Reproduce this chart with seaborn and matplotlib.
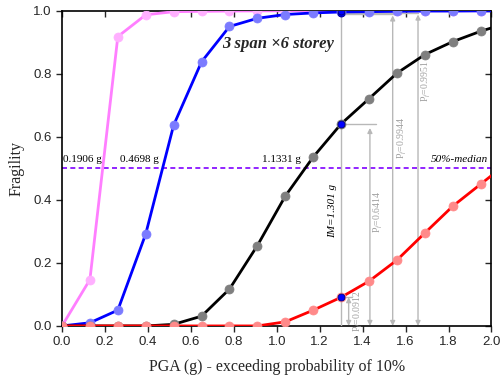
import numpy as np
import pandas as pd
import matplotlib
matplotlib.use("Agg")
import matplotlib.pyplot as plt
import seaborn as sns

# ---- data ----
pga = [0.0, 0.13, 0.26, 0.39, 0.52, 0.65, 0.78, 0.91, 1.04, 1.17, 1.30, 1.43, 1.56, 1.69, 1.82, 1.95, 2.08]
ds_slight = [0.0, 0.147, 0.918, 0.987, 0.997, 0.998, 0.999, 0.9995, 0.9998, 0.9999, 1.0, 1.0, 1.0, 1.0, 1.0, 1.0, 1.0]
ds_moderate = [0.0, 0.01, 0.05, 0.292, 0.637, 0.838, 0.950, 0.976, 0.988, 0.993, 0.996, 0.997, 0.998, 0.999, 0.999, 0.9995, 0.9998]
ds_extensive = [0.0, 0.0, 0.0, 0.0, 0.005, 0.031, 0.117, 0.255, 0.412, 0.536, 0.641, 0.721, 0.802, 0.861, 0.902, 0.935, 0.962]
ds_complete = [0.0, 0.0, 0.0, 0.0, 0.0, 0.0, 0.0, 0.0, 0.013, 0.05, 0.091, 0.142, 0.209, 0.295, 0.380, 0.450, 0.52]

medians = [0.1906, 0.4698, 1.1331]
median_labels = ["0.1906 g", "0.4698 g", "1.1331 g"]
im_value = 1.301
pf_values = [0.0912, 0.6414, 0.9944, 0.9951]
pf_labels = ["P$_f$=0.0912", "P$_f$=0.6414", "P$_f$=0.9944", "P$_f$=0.9951"]

x_ticks = [0.0, 0.2, 0.4, 0.6, 0.8, 1.0, 1.2, 1.4, 1.6, 1.8, 2.0]
y_ticks = [0.0, 0.2, 0.4, 0.6, 0.8, 1.0]

sns.set_style("ticks")
plt.rcParams['font.family'] = ['Liberation Sans', 'DejaVu Sans']
plt.rcParams['mathtext.fontset'] = 'custom'
plt.rcParams['mathtext.rm'] = 'Liberation Serif'
plt.rcParams['mathtext.it'] = 'Liberation Serif:italic'
serif = ['Liberation Serif', 'DejaVu Serif']

fig = plt.figure(figsize=(5.02, 3.83), dpi=100)
ax = fig.add_axes([0.1235, 0.149, 0.8555, 0.823])

series = [
    (ds_slight, "#ff7fff", "#ffb0ff"),
    (ds_moderate, "#0000ff", "#7b7bff"),
    (ds_extensive, "#000000", "#7f7f7f"),
    (ds_complete, "#ff0000", "#ff8a8a"),
]
for vals, lc, mc in series:
    df = pd.DataFrame({"PGA": pga, "P": vals})
    sns.lineplot(data=df, x="PGA", y="P", ax=ax, color=lc, lw=2.0,
                 marker="o", markersize=6.5, markerfacecolor=mc,
                 markeredgecolor=mc, markeredgewidth=0.5, clip_on=True,
                 zorder=4)

grey = "#b8b8b8"
# IM vertical line
ax.plot([im_value, im_value], [0, 1.0], color=grey, lw=1.0, zorder=3)
# horizontal short guides
ax.plot([im_value, 1.462], [pf_values[1]] * 2, color=grey, lw=1.0, zorder=3)
ax.plot([im_value, 1.352], [pf_values[0]] * 2, color=grey, lw=1.0, zorder=3)
ax.plot([im_value, 1.58], [0.989] * 2, color=grey, lw=1.0, zorder=3)
ax.plot([im_value, 1.658], [0.992] * 2, color=grey, lw=1.0, zorder=3)

arrow_x = [1.335, 1.434, 1.54, 1.658]
arrow_top = [pf_values[0], 0.628, 0.985, 0.988]
for xa, yt in zip(arrow_x, arrow_top):
    ax.annotate("", xy=(xa, 0.0), xytext=(xa, yt),
                arrowprops=dict(arrowstyle="<|-|>", color=grey, lw=1.0,
                                shrinkA=0, shrinkB=0, mutation_scale=7),
                zorder=3)

# blue dots at IM
for yv in [pf_values[0], pf_values[1], 0.994, 0.999]:
    ax.plot([im_value], [yv], "o", color="#0000ff", markersize=5,
            markeredgecolor="#00007f", markeredgewidth=0.6, zorder=6)

# pf labels
pf_pos = [(1.38, 0.045), (1.473, 0.36), (1.585, 0.595), (1.696, 0.777)]
for (xp, yp), lab in zip(pf_pos, pf_labels):
    ax.text(xp, yp, lab, rotation=90, ha="center", va="center",
            fontsize=7, family=serif, color="#a0a0a0", zorder=5)

ax.text(1.262, 0.364, "IM=1.301 g", rotation=90, ha="center", va="center",
        fontsize=8, family=serif, style="italic", color="black", zorder=5)

# 50 % line
ax.axhline(0.5, color="#7f00ff", lw=1.2, ls=(0, (3, 2)), zorder=2)
med_x = [0.003, 0.27, 0.93]
for xm, lab in zip(med_x, median_labels):
    ax.text(xm, 0.515, lab, ha="left", va="bottom", fontsize=8,
            family=serif, color="black", zorder=5)
ax.text(1.985, 0.515, "50%-median", ha="right", va="bottom", fontsize=8,
        family=serif, style="italic", color="black", zorder=5)

ax.text(0.745, 0.894, "3 span \u00d76 storey", ha="left", va="center",
        fontsize=12, family=serif, style="italic", weight="bold", zorder=5)

ax.set_xlim(0, 2.0)
ax.set_ylim(0, 1.0)
ax.set_xticks(x_ticks)
ax.set_yticks(y_ticks)
ax.set_xticklabels([f"{v:.1f}" for v in x_ticks], fontsize=9.5)
ax.set_yticklabels([f"{v:.1f}" for v in y_ticks], fontsize=9.5)
ax.tick_params(axis="both", direction="out", length=4, width=1.0)
ax.set_xlabel("PGA (g) - exceeding probability of 10%", family=serif, fontsize=11.5, labelpad=8)
ax.set_ylabel("Fragility", family=serif, fontsize=11.5, labelpad=6)

for s in ax.spines.values():
    s.set_linewidth(1.2)
    s.set_visible(True)
    s.set_color("black")

# mirrored inward ticks on top and right
axt = ax.secondary_xaxis("top")
axt.set_xticks(x_ticks)
axt.tick_params(direction="in", length=4, width=1.0, labeltop=False)
axt.spines["top"].set_visible(False)
axr = ax.secondary_yaxis("right")
axr.set_yticks(y_ticks)
axr.tick_params(direction="in", length=4, width=1.0, labelright=False)
axr.spines["right"].set_visible(False)

fig.savefig("out.png", dpi=100)
